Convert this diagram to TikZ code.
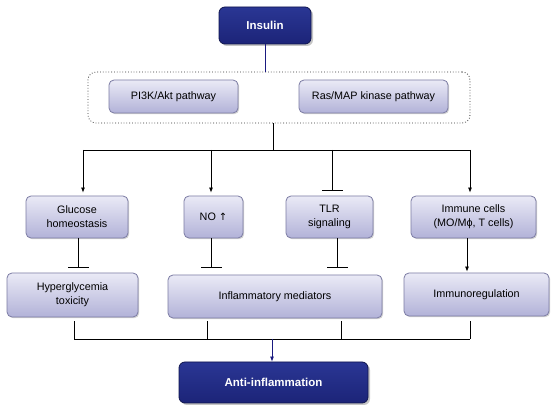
\documentclass[tikz,border=0pt]{standalone}
\usepackage{fontspec}
\setmainfont{Liberation Sans}
\newfontfamily\symfont{DejaVu Sans}
\usetikzlibrary{arrows.meta,shadows}
\definecolor{lavtop}{HTML}{EAEAF6}
\definecolor{lavbot}{HTML}{B2B2D8}
\definecolor{lavedge}{HTML}{7C7CA4}
\definecolor{navytop}{HTML}{2A3694}
\definecolor{navybot}{HTML}{1C2478}
\definecolor{navyedge}{HTML}{10164E}
\definecolor{navyline}{HTML}{1A1A80}
\tikzset{
  lightbox/.style={draw=lavedge, line width=0.8pt, rounded corners=5pt,
    top color=lavtop, bottom color=lavbot, align=center, font=\fontsize{10.8}{14}\selectfont,
    drop shadow={shadow xshift=1.2pt, shadow yshift=-1.2pt, opacity=0.35}},
  darkbox/.style={draw=navyedge, line width=0.8pt, rounded corners=6pt,
    top color=navytop, bottom color=navybot, text=white, align=center,
    font=\fontsize{11.5}{14}\selectfont\bfseries,
    drop shadow={shadow xshift=2pt, shadow yshift=-2pt, opacity=0.45}},
  conn/.style={line width=0.8pt, black},
  arr/.style={conn, -{Latex[length=5pt,width=4pt]}},
  inhib/.style={conn, -{Bar[width=21pt,line width=0.8pt]}},
}
\begin{document}
\begin{tikzpicture}[x=1pt,y=-1pt]
\useasboundingbox (0,0) rectangle (555,411);
\fill[white] (0,0) rectangle (555,411);

\node[darkbox, minimum width=92, minimum height=37] (ins) at (265,25.5) {Insulin};
\node[draw=black!80, dotted, line width=0.8pt, rounded corners=8pt, minimum width=382, minimum height=51] (grp) at (279,97.5) {};
\node[lightbox, minimum width=129, minimum height=33] (pi3k) at (173.5,96.5) {PI3K/Akt pathway};
\node[lightbox, minimum width=149, minimum height=33] (ras) at (373.5,96.5) {Ras/MAP kinase pathway};

\node[lightbox, minimum width=102, minimum height=42] (glu) at (77,217) {Glucose\\homeostasis};
\node[lightbox, minimum width=59, minimum height=42] (no) at (213.5,217) {NO {\symfont\fontsize{10}{14}\selectfont ↑}};
\node[lightbox, minimum width=87, minimum height=42] (tlr) at (329.5,217) {TLR\\signaling};
\node[lightbox, minimum width=125, minimum height=42] (imm) at (473.5,217) {Immune cells\\(MO/Mϕ, T cells)};

\node[lightbox, minimum width=131, minimum height=44] (hyp) at (72.5,295) {Hyperglycemia\\toxicity};
\node[lightbox, minimum width=214, minimum height=43] (inf) at (275,296.5) {Inflammatory mediators};
\node[lightbox, minimum width=145, minimum height=43] (imr) at (476.5,294.5) {Immunoregulation};

\node[darkbox, minimum width=189, minimum height=41] (anti) at (273.5,382.5) {Anti-inflammation};

% top connectors
\draw[conn, draw=navyline] (ins.south) -- (grp.north -| ins.south);
\coordinate (b) at (273,150);
\coordinate (bl) at (83,150);
\coordinate (br) at (470,150);
\coordinate (bno) at (211,150);
\coordinate (btlr) at (332,150);
\draw[conn] (grp.south -| b) -- (b);
\draw[conn] (bl) -- (br);
\draw[arr] (bl) -- ([yshift=3pt]glu.north -| bl);
\draw[arr] (bno) -- ([yshift=3pt]no.north -| bno);
\draw[inhib] (btlr) -- ([yshift=5pt]tlr.north -| btlr);
\draw[arr] (br) -- ([yshift=3pt]imm.north -| br);

% middle connectors
\coordinate (m1) at (78,238);
\coordinate (m2) at (211,238);
\coordinate (m3) at (337,238);
\coordinate (m4) at (467,238);
\draw[inhib] (glu.south -| m1) -- ([yshift=5pt]hyp.north -| m1);
\draw[inhib] (no.south -| m2) -- ([yshift=7pt]inf.north -| m2);
\draw[inhib] (tlr.south -| m3) -- ([yshift=7pt]inf.north -| m3);
\draw[arr] (imm.south -| m4) -- ([yshift=1pt]imr.north -| m4);

% bottom collector
\coordinate (c1) at (74,339);
\coordinate (c2) at (207,339);
\coordinate (c3) at (341,339);
\coordinate (c4) at (470,339);
\coordinate (cm) at (272,339);
\draw[conn] ([yshift=-4pt]hyp.south -| c1) -- (c1);
\draw[conn] ([yshift=-3pt]inf.south -| c2) -- (c2);
\draw[conn] ([yshift=-3pt]inf.south -| c3) -- (c3);
\draw[conn] ([yshift=-5pt]imr.south -| c4) -- (c4);
\draw[conn] (c1) -- (c4);
\draw[conn, draw=navyline, -{Latex[length=5pt,width=4pt]}] (cm) -- (anti.north -| cm);
\end{tikzpicture}
\end{document}
